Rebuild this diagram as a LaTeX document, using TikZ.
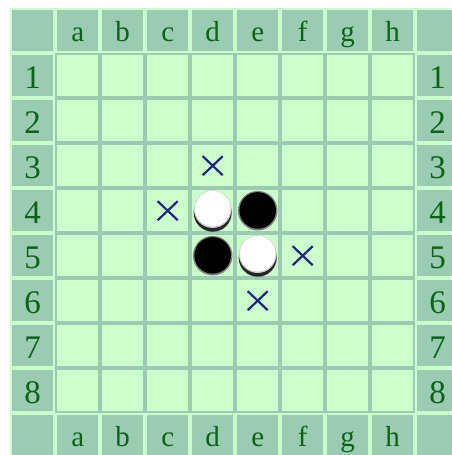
\documentclass[tikz,border=0pt]{standalone}
\usepackage{fontspec}
\setmainfont{Liberation Serif}
\usetikzlibrary{calc}
\definecolor{lightg}{HTML}{CCFFCC}
\definecolor{hdr}{HTML}{99CCB3}
\definecolor{txt}{HTML}{0B6316}
\definecolor{xblue}{HTML}{1E2580}
\begin{document}
\begin{tikzpicture}[x=1pt,y=-1pt,
  hdrbox/.style={fill=hdr, minimum width=41pt, minimum height=41pt, inner sep=0pt, anchor=north west, text=txt},
  lettercell/.style={hdrbox, font=\fontsize{29}{29}\selectfont, text height=22pt, text depth=0pt},
  digitcell/.style={hdrbox, font=\fontsize{33}{33}\selectfont, text height=25pt, text depth=0pt},
  boardcell/.style={fill=lightg, minimum width=41pt, minimum height=41pt, inner sep=0pt, anchor=north west},
  xmark/.style={draw=xblue, line width=2.2pt},
  ]
\useasboundingbox (0,0) rectangle (451,455);
\fill[white] (0,0) rectangle (451,455);
\fill[lightg] (10,8) rectangle (451,455);
% corners
\node[hdrbox] (c00) at (12,10) {};
\node[hdrbox] (c90) at (417,10) {};
\node[hdrbox] (c09) at (12,415) {};
\node[hdrbox] (c99) at (417,415) {};
% column headers
\foreach \l [count=\k] in {a,b,c,d,e,f,g,h} {
  \node[lettercell] (top\l) at ({12+45*\k},10) {\l};
  \node[lettercell] (bot\l) at ({12+45*\k},415) {\l};
}
% row headers
\foreach \k in {1,...,8} {
  \node[digitcell] (left\k) at (12,{10+45*\k}) {\k};
  \node[digitcell] (right\k) at (417,{10+45*\k}) {\k};
}
% board
\fill[hdr] (55,53) rectangle (415,413);
\foreach \l [count=\k] in {a,b,c,d,e,f,g,h} {
  \foreach \r in {1,...,8} {
    \node[boardcell] (\l\r) at ({12+45*\k},{10+45*\r}) {};
  }
}
% discs
\newcommand{\whitedisc}[1]{%
  \fill[black!85] ($(#1)+(0,2)$) circle (19);
  \fill[white!80!black] ($(#1)+(0,-1.5)$) circle (18.8);
  \fill[white] ($(#1)+(0,-2)$) circle (17.8);
}
\newcommand{\blackdisc}[1]{%
  \fill[black!50] ($(#1)+(0,0)$) circle (19.8);
  \fill[black] ($(#1)+(0,-0.3)$) circle (18.3);
}
\whitedisc{d4}
\blackdisc{e4}
\blackdisc{d5}
\whitedisc{e5}
% crosses
\foreach \c in {d3,c4,f5,e6} {
  \draw[xmark] ($(\c)+(-10,-9.5)$) -- ($(\c)+(10,9.5)$);
  \draw[xmark] ($(\c)+(-10,9.5)$) -- ($(\c)+(10,-9.5)$);
}
\end{tikzpicture}
\end{document}
